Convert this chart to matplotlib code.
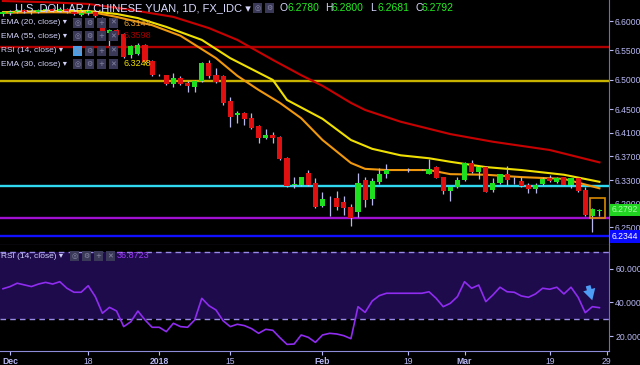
import numpy as np
import matplotlib
matplotlib.use("Agg")
import matplotlib.pyplot as plt
from matplotlib.patches import Rectangle

# daily OHLC, Nov 30 2017 .. Mar 28 2018 (one row per bar)
opens = [6.6120, 6.6140, 6.6160, 6.6180, 6.6160, 6.6150, 6.6180, 6.6200, 6.6170, 6.6210,
         6.6150, 6.6100, 6.6130, 6.6160, 6.6051, 6.5796, 6.5847, 6.5779, 6.5423, 6.5440,
         6.5593, 6.5320, 6.5083, 6.5083, 6.4930, 6.5032, 6.4947, 6.4879, 6.4981, 6.5287,
         6.5083, 6.5066, 6.4642, 6.4404, 6.4438, 6.4353, 6.4217, 6.4014, 6.4064, 6.4031,
         6.3674, 6.3216, 6.3216, 6.3419, 6.3250, 6.2860, 6.2990, 6.2995, 6.2927, 6.2843,
         6.2757, 6.3300, 6.2978, 6.3267, 6.3402, 6.3470, 6.3473, 6.3469, 6.3472, 6.3468,
         6.3402, 6.3521, 6.3351, 6.3114, 6.3182, 6.3300, 6.3589, 6.3436, 6.3521, 6.3131,
         6.3250, 6.3402, 6.3290, 6.3283, 6.3216, 6.3148, 6.3233, 6.3334, 6.3267, 6.3351,
         6.3216, 6.3334, 6.3131, 6.2689, 6.2780]
highs = [6.6170, 6.6180, 6.6200, 6.6210, 6.6190, 6.6210, 6.6230, 6.6220, 6.6240, 6.6220,
         6.6170, 6.6150, 6.6190, 6.6180, 6.6068, 6.5864, 6.5860, 6.5790, 6.5590, 6.5620,
         6.5610, 6.5340, 6.5100, 6.5090, 6.5117, 6.5066, 6.4981, 6.4998, 6.5310, 6.5338,
         6.5202, 6.5080, 6.4710, 6.4472, 6.4455, 6.4438, 6.4230, 6.4166, 6.4115, 6.4050,
         6.3690, 6.3351, 6.3360, 6.3470, 6.3334, 6.3097, 6.3029, 6.3114, 6.3029, 6.2894,
         6.3419, 6.3351, 6.3334, 6.3504, 6.3572, 6.3475, 6.3476, 6.3504, 6.3476, 6.3480,
         6.3657, 6.3545, 6.3360, 6.3190, 6.3351, 6.3606, 6.3640, 6.3530, 6.3530, 6.3334,
         6.3410, 6.3538, 6.3351, 6.3351, 6.3250, 6.3250, 6.3351, 6.3385, 6.3350, 6.3360,
         6.3340, 6.3340, 6.3182, 6.2820, 6.2800]
lows = [6.6090, 6.6100, 6.6130, 6.6140, 6.6120, 6.6130, 6.6150, 6.6150, 6.6160, 6.6130,
        6.6100, 6.6090, 6.6110, 6.6060, 6.5750, 6.5559, 6.5740, 6.5370, 6.5372, 6.5420,
        6.5280, 6.5070, 6.5070, 6.4920, 6.4879, 6.4920, 6.4795, 6.4795, 6.4970, 6.5032,
        6.4947, 6.4574, 6.4200, 6.4268, 6.4234, 6.4170, 6.3929, 6.4000, 6.3929, 6.3640,
        6.3180, 6.3165, 6.3200, 6.3200, 6.2830, 6.2850, 6.2689, 6.2792, 6.2706, 6.2520,
        6.2672, 6.2843, 6.2877, 6.3233, 6.3334, 6.3465, 6.3466, 6.3436, 6.3466, 6.3462,
        6.3395, 6.3330, 6.3063, 6.2944, 6.3170, 6.3290, 6.3419, 6.3317, 6.3090, 6.3097,
        6.3240, 6.3216, 6.3233, 6.3190, 6.3080, 6.3080, 6.3220, 6.3270, 6.3250, 6.3210,
        6.3165, 6.3100, 6.2690, 6.2418, 6.2681]
closes = [6.6150, 6.6160, 6.6180, 6.6160, 6.6150, 6.6180, 6.6200, 6.6170, 6.6210, 6.6150,
          6.6120, 6.6130, 6.6170, 6.6080, 6.5762, 6.5847, 6.5762, 6.5389, 6.5576, 6.5600,
          6.5300, 6.5083, 6.5090, 6.4930, 6.5032, 6.4930, 6.4896, 6.4981, 6.5287, 6.5066,
          6.4964, 6.4608, 6.4370, 6.4438, 6.4336, 6.4183, 6.4014, 6.4064, 6.4014, 6.3657,
          6.3199, 6.3233, 6.3351, 6.3216, 6.2843, 6.2978, 6.2995, 6.2843, 6.2826, 6.2655,
          6.3250, 6.2961, 6.3283, 6.3402, 6.3470, 6.3473, 6.3469, 6.3472, 6.3468, 6.3474,
          6.3487, 6.3334, 6.3114, 6.3182, 6.3300, 6.3589, 6.3436, 6.3521, 6.3097, 6.3250,
          6.3402, 6.3300, 6.3283, 6.3199, 6.3148, 6.3216, 6.3317, 6.3283, 6.3334, 6.3216,
          6.3334, 6.3114, 6.2706, 6.2808, 6.2792]

rsi = [48.2, 49.5, 51.5, 50.5, 49.5, 51.0, 52.0, 51.0, 52.4, 48.5,
       46.1, 46.1, 50.0, 43.5, 33.6, 37.1, 34.9, 25.6, 28.5, 34.9,
       29.6, 25.2, 25.2, 22.6, 27.6, 25.6, 25.2, 29.6, 42.5, 38.1,
       35.5, 29.1, 25.6, 27.0, 26.2, 24.4, 21.6, 24.0, 23.4, 19.0,
       15.0, 15.2, 20.6, 19.2, 16.2, 20.6, 21.6, 21.2, 20.2, 18.4,
       37.5, 34.1, 40.9, 44.1, 45.5, 45.5, 45.5, 45.5, 45.5, 45.5,
       46.4, 42.5, 37.5, 39.5, 43.5, 52.4, 48.5, 50.4, 40.5, 44.5,
       49.1, 46.4, 46.1, 43.9, 43.1, 45.1, 48.5, 47.9, 49.1, 45.1,
       49.1, 43.1, 33.9, 37.5, 36.9]

# moving averages at a few bars
ema55_bar = [0, 6, 12, 18, 24, 29, 33, 38, 42, 45, 49, 51, 56, 63, 69, 77, 84]
ema55 = [6.634, 6.632, 6.629, 6.619, 6.607, 6.588, 6.568, 6.534, 6.508, 6.490,
         6.461, 6.449, 6.429, 6.408, 6.395, 6.381, 6.360]
ema30_bar = [0, 6, 12, 16, 19, 23, 28, 32, 38, 40, 45, 49, 52, 56, 60, 63, 68, 73, 79, 84]
ema30 = [6.615, 6.617, 6.617, 6.612, 6.605, 6.590, 6.568, 6.537, 6.500, 6.466,
         6.434, 6.398, 6.383, 6.372, 6.367, 6.361, 6.352, 6.347, 6.339, 6.327]
ema20_bar = [0, 7, 13, 16, 21, 25, 30, 33, 36, 39, 42, 45, 49, 51, 54, 60, 63, 68, 73, 79, 84]
ema20 = [6.614, 6.615, 6.614, 6.607, 6.593, 6.575, 6.537, 6.507, 6.483, 6.461, 6.435,
         6.398, 6.359, 6.349, 6.347, 6.347, 6.340, 6.339, 6.335, 6.332, 6.316]

# horizontal levels drawn on the chart
levels = [6.5559, 6.4985, 6.3199, 6.2655, 6.2344]
level_colors = ["#b00000", "#c8b400", "#30d8f0", "#a010d0", "#1010ff"]

price_ticks = [6.60, 6.55, 6.50, 6.45, 6.41, 6.37, 6.33, 6.29, 6.25]
rsi_ticks = [20, 40, 60]
date_ticks = [1, 12, 22, 32, 45, 57, 65, 77, 85]
date_labels = ["Dec", "18", "2018", "15", "Feb", "19", "Mar", "19", "29"]

last_close = 6.2792
legend_vals = ["6.3144", "6.3598", "6.3248"]

W, H = 640, 365
BG = "black"
LAV = "#b8b8f4"
FONT = ["Liberation Sans", "DejaVu Sans"]


def fx(x):
    return x / W


def fy(y):
    return 1 - y / H


fig = plt.figure(figsize=(6.4, 3.65), dpi=100, facecolor=BG)
ax = fig.add_axes([0, fy(245), 609 / W, 245 / H], facecolor=BG)
axr = fig.add_axes([0, fy(351), 609 / W, 106 / H], facecolor=BG)

o = np.array(opens)
c = np.array(closes)
bars = np.arange(len(c))

for lv, col in zip(levels, level_colors):
    ax.axhline(lv, color=col, lw=1.7, zorder=1)

ax.plot(ema55_bar, ema55, color="#c80000", lw=1.5, zorder=2)
ax.plot(ema30_bar, ema30, color="#f0e000", lw=1.5, zorder=2)
ax.plot(ema20_bar, ema20, color="#f0980e", lw=1.5, zorder=2)

ax.vlines(bars, lows, highs, color="#b8b8ee", lw=0.9, zorder=3)
body_col = np.where(c >= o, "#1ee01e", "#e01010")
body_h = np.maximum(np.abs(c - o), 0.0007)
ax.bar(bars, body_h, bottom=np.minimum(o, c), width=0.72, color=body_col, lw=0, zorder=4)

ax.add_patch(Rectangle((82.7, 6.2655), 2.1, 0.034, fill=False, edgecolor="#d98a00", lw=1.2, zorder=5))

ax.set_xlim(-0.42, 85.35)
ax.set_ylim(6.2197, 6.6357)
ax.yaxis.tick_right()
ax.set_yticks(price_ticks)
ax.set_yticklabels([f"{t:.4f}" for t in price_ticks])
ax.set_xticks([])
ax.tick_params(axis="y", colors=LAV, labelsize=6.2, length=3, pad=1)
for s in ["left", "top"]:
    ax.spines[s].set_visible(False)
ax.spines["right"].set_color("#6e6eb8")
ax.spines["bottom"].set_color("#8c8cd8")

ytr = ax.get_yaxis_transform()
ax.text(1.005, last_close, f"{last_close:.4f}", transform=ytr, va="center", ha="left",
        fontsize=6.2, color="#a8ffa8", family=FONT,
        bbox=dict(boxstyle="square,pad=0.2", fc="#22d422", ec="none"), clip_on=False)
ax.text(1.005, levels[-1], f"{levels[-1]:.4f}", transform=ytr, va="center", ha="left",
        fontsize=6.2, color="white", family=FONT,
        bbox=dict(boxstyle="square,pad=0.2", fc="#0a0aff", ec="none"), clip_on=False)

# RSI panel
axr.axhspan(30, 70, color="#1d0b4c", lw=0, zorder=0)
axr.axhline(70, color="#9a8ae8", lw=1, dashes=(4, 3))
axr.axhline(30, color="#9a8ae8", lw=1, dashes=(4, 3))
axr.plot(bars, rsi, color="#8f2cf0", lw=1.2)
axr.annotate("", xy=(83.1, 39.7), xytext=(82.3, 51.6),
             arrowprops=dict(arrowstyle="simple,head_width=0.9,head_length=0.8,tail_width=0.35",
                             color="#4d9cf5", lw=0), annotation_clip=False)
axr.set_xlim(-0.42, 85.35)
axr.set_ylim(11.05, 74.3)
axr.yaxis.tick_right()
axr.set_yticks(rsi_ticks)
axr.set_yticklabels([f"{t:.4f}" for t in rsi_ticks])
axr.set_xticks(date_ticks)
axr.set_xticklabels(date_labels)
axr.tick_params(colors=LAV, labelsize=6.2, length=3, pad=1.5)
for lab in axr.get_xticklabels():
    lab.set_family(FONT)
    if not lab.get_text().isdigit() or lab.get_text() == "2018":
        lab.set_fontweight("bold")
for s in ["left", "top"]:
    axr.spines[s].set_visible(False)
axr.spines["right"].set_color("#6e6eb8")
axr.spines["bottom"].set_color("#8c8cd8")
for lab in ax.get_yticklabels() + axr.get_yticklabels():
    lab.set_family(FONT)

# legend / header texts
fig.text(fx(15), fy(8), "U.S. DOLLAR / CHINESE YUAN, 1D, FX_IDC \u25be", color="#d8d8ff",
         fontsize=8, va="center", family=FONT)


def icon_boxes(x0, y, n, first=None):
    glyphs = ["\u25ce", "\u2699", "+", "\u2715"]
    for i in range(n):
        x = x0 + i * 12
        col = first if (i == 0 and first) else "#3a3a58"
        fig.add_artist(Rectangle((fx(x), fy(y + 5)), 9 / W, 10 / H, transform=fig.transFigure,
                                 color=col, lw=0))
        fig.text(fx(x + 4.5), fy(y), glyphs[i % 4], color="#8a8aa8", fontsize=5,
                 ha="center", va="center", family=["DejaVu Sans"])


icon_boxes(253, 8, 2)
ohlc = [("O", "6.2780", 280), ("H", "6.2800", 325), ("L", "6.2681", 370), ("C", "6.2792", 415)]
for letter, val, x in ohlc:
    fig.text(fx(x), fy(8), letter, color="#d8d8ff", fontsize=7.5, va="center", family=FONT)
    fig.text(fx(x + 7), fy(8), val, color="#22ee22", fontsize=7.5, va="center", family=FONT)

rows = [("EMA (20, close) \u25be", 23, legend_vals[0], "#e8a030"),
        ("EMA (55, close) \u25be", 36, legend_vals[1], "#a00000"),
        ("RSI (14, close) \u25be", 51, None, None),
        ("EMA (30, close) \u25be", 64, legend_vals[2], "#f0e000")]
for label, y, val, col in rows:
    fig.text(fx(1), fy(y), label, color="#d0d0f8", fontsize=6, va="center", family=FONT)
    icon_boxes(73, y, 4, first="#4aa0e8" if val is None else None)
    if val:
        fig.text(fx(123), fy(y), val, color=col, fontsize=6.5, va="center", family=FONT)

fig.text(fx(1), fy(256), "RSI (14, close) \u25be", color="#d0d0f8", fontsize=6, va="center", family=FONT)
icon_boxes(70, 256, 4)
fig.text(fx(117), fy(256), "36.8723", color="#9d3cf5", fontsize=6.5, va="center", family=FONT)

fig.savefig("out.png", dpi=100, facecolor=BG)
